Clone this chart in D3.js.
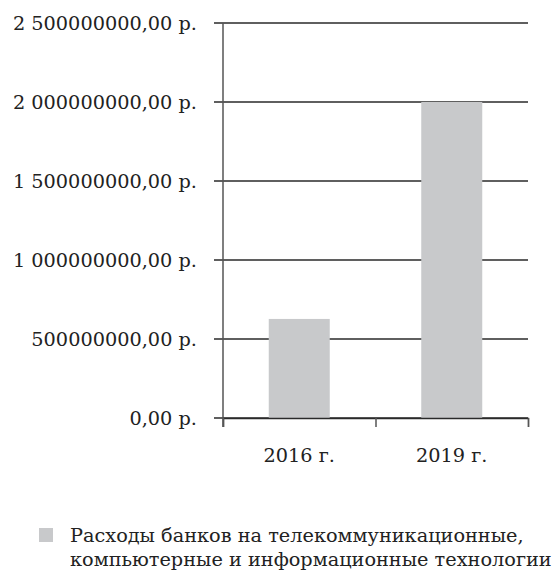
<!DOCTYPE html>
<html><head><meta charset="utf-8">
<script src="https://cdn.jsdelivr.net/npm/d3@7"></script>
<style>body{margin:0;background:#fff}</style>
</head><body>
<svg id="c" width="555" height="571"></svg>
<script>
const categories = ["2016 г.", "2019 г."];
const values = [627000000, 2000000000];
const yTicks = [0, 500000000, 1000000000, 1500000000, 2000000000, 2500000000];
const yTickLabels = ["0,00 р.", "500000000,00 р.", "1 000000000,00 р.", "1 500000000,00 р.", "2 000000000,00 р.", "2 500000000,00 р."];
const legendLines = ["Расходы банков на телекоммуникационные,", "компьютерные и информационные технологии"];

(function () {
const svg = d3.select("#c");
const font = "DejaVu Serif";
const pLeft = 223, pRight = 528, pTop = 23, pBottom = 418;
const x = d3.scaleBand().domain(categories).range([pLeft, pRight]).paddingInner(0.6).paddingOuter(0.3);
const y = d3.scaleLinear().domain([0, 2500000000]).range([pBottom, pTop]);
const barColor = "#c8c9cb";

svg.append("g").selectAll("line").data(yTicks).join("line")
  .attr("x1", pLeft - 9).attr("x2", pRight)
  .attr("y1", d => y(d)).attr("y2", d => y(d))
  .attr("stroke", "#2a2a2a").attr("stroke-width", 1.3);

svg.append("g").selectAll("rect").data(values).join("rect")
  .attr("x", (d, i) => x(categories[i]))
  .attr("width", x.bandwidth())
  .attr("y", d => y(d))
  .attr("height", d => pBottom - y(d))
  .attr("fill", barColor);

svg.append("line").attr("x1", pLeft).attr("x2", pLeft).attr("y1", pTop).attr("y2", pBottom + 9)
  .attr("stroke", "#555").attr("stroke-width", 1.5);

const xAxis = d3.axisBottom(d3.scaleLinear().domain([0, 2]).range([pLeft, pRight]))
  .tickValues([0, 1, 2]).tickSize(9).tickFormat("");
const gx = svg.append("g").attr("transform", `translate(0,${pBottom})`).call(xAxis);
gx.select(".domain").attr("stroke", "#2a2a2a").attr("stroke-width", 1.3);
gx.selectAll(".tick line").attr("stroke", "#555").attr("stroke-width", 1.5);

svg.append("g").selectAll("text").data(yTicks).join("text")
  .attr("x", 197).attr("y", d => y(d)).attr("dy", "0.36em")
  .attr("text-anchor", "end")
  .attr("font-family", font).attr("font-size", 19.3).attr("fill", "#222")
  .text((d, i) => yTickLabels[i]);

svg.append("g").selectAll("text").data(categories).join("text")
  .attr("x", d => x(d) + x.bandwidth() / 2).attr("y", 462)
  .attr("text-anchor", "middle")
  .attr("font-family", font).attr("font-size", 19.3).attr("fill", "#222")
  .text(d => d);

svg.append("rect").attr("x", 39).attr("y", 528).attr("width", 14).attr("height", 14).attr("fill", barColor);
svg.append("g").selectAll("text").data(legendLines).join("text")
  .attr("x", 70).attr("y", (d, i) => 542 + i * 24)
  .attr("font-family", font).attr("font-size", 19.3).attr("fill", "#222")
  .text(d => d);
})();
</script>
</body></html>
